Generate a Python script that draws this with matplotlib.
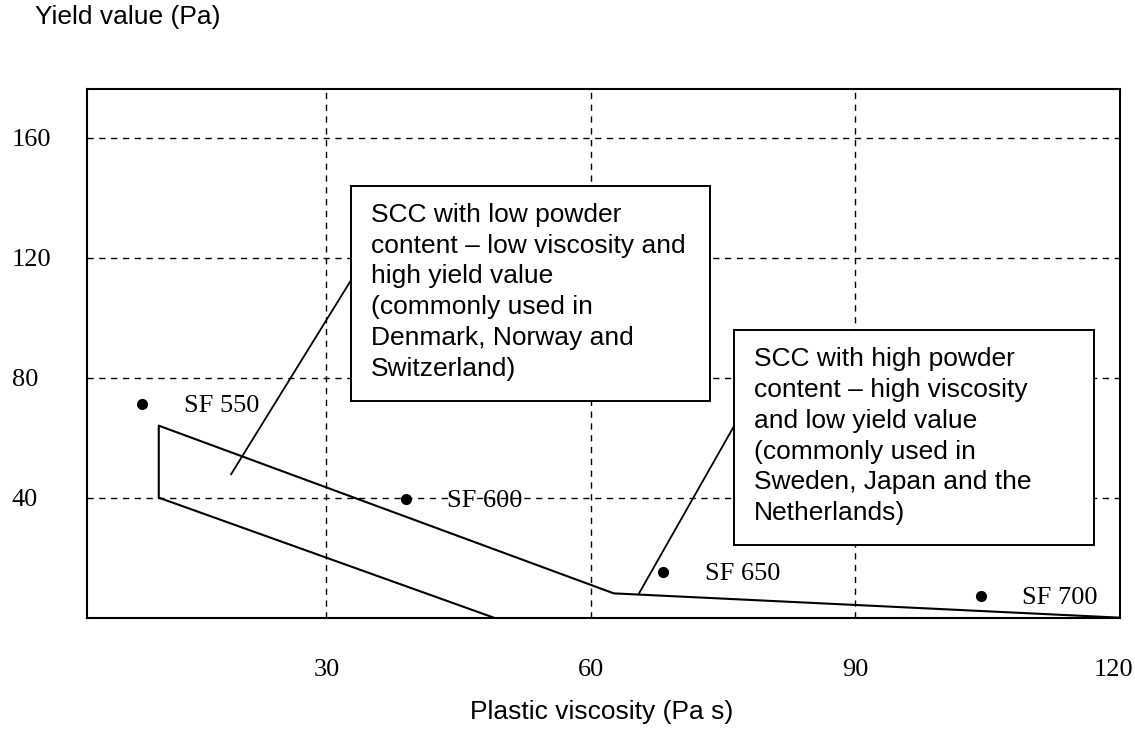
import matplotlib.pyplot as plt
from matplotlib.patches import Rectangle
from matplotlib.transforms import ScaledTranslation

# Points (plastic viscosity Pa s, yield value Pa)
sf_labels = ['SF 550', 'SF 600', 'SF 650', 'SF 700']
sf_visc = [9.1, 39.0, 68.2, 104.2]
sf_yield = [71.2, 39.6, 15.2, 7.3]

# Outline of the SCC region
outline_visc = [49, 11, 11, 62.6, 120]
outline_yield = [0, 40, 64, 8.1, 0]

# Leader lines from the boxes
lead_low_visc = [32.7, 19.2]
lead_low_yield = [112, 47.8]
lead_high_visc = [76.2, 65.4]
lead_high_yield = [63.7, 7.8]

# Boxes: (x0, y0, x1, y1)
box_low = (32.75, 72.2, 73.5, 144.0)
box_high = (76.2, 24.2, 117.1, 95.9)
txt_low = ("SCC with low powder\ncontent \u2013 low viscosity and\nhigh yield value\n"
           "(commonly used in\nDenmark, Norway and\nSwitzerland)")
txt_high = ("SCC with high powder\ncontent \u2013 high viscosity\nand low yield value\n"
            "(commonly used in\nSweden, Japan and the\nNetherlands)")

x_ticks = [30, 60, 90, 120]
y_ticks = [40, 80, 120, 160]

sans = ['Liberation Sans', 'DejaVu Sans']
serif = ['Liberation Serif', 'DejaVu Serif']

fig = plt.figure(figsize=(11.35, 7.29), dpi=100)
ax = fig.add_axes([0.0764, 0.1527, 0.9104, 0.7248])
ax.set_xlim(2.83, 120)
ax.set_ylim(0, 176.1)

# grid
for xv in x_ticks[:-1]:
    ax.axvline(xv, color='black', lw=1.0, dashes=(4.5, 4), zorder=1)
for yv in y_ticks:
    ax.axhline(yv, color='black', lw=1.0, dashes=(4.5, 4), zorder=1)

for s in ax.spines.values():
    s.set_linewidth(1.5)

ax.plot(outline_visc, outline_yield, color='black', lw=1.5, zorder=2)
ax.plot(lead_low_visc, lead_low_yield, color='black', lw=1.3, zorder=2)
ax.plot(lead_high_visc, lead_high_yield, color='black', lw=1.3, zorder=2)

ax.plot(sf_visc, sf_yield, 'o', color='black', markersize=7, zorder=3)
for lab, xv, yv in zip(sf_labels, sf_visc, sf_yield):
    ax.annotate(lab, (xv, yv), textcoords='offset points', xytext=(30, -1.5),
                va='center', ha='left', fontsize=19, family=serif, zorder=3)

for (x0, y0, x1, y1), txt in [(box_low, txt_low), (box_high, txt_high)]:
    ax.add_patch(Rectangle((x0, y0), x1 - x0, y1 - y0, facecolor='white',
                           edgecolor='black', lw=1.4, zorder=4))
    ax.text(x0 + 2.3, y1 - 5.7, txt, ha='left', va='top', fontsize=19,
            family=sans, linespacing=1.36, zorder=5)

ax.set_xticks(x_ticks)
ax.set_yticks(y_ticks)
ax.set_xticklabels([str(v) for v in x_ticks], family=serif, fontsize=19)
ax.set_yticklabels([str(v) for v in y_ticks], family=serif, fontsize=19)
ax.tick_params(axis='x', length=0, pad=30)
ax.tick_params(axis='y', length=0, pad=54)
for lab in ax.get_yticklabels():
    lab.set_horizontalalignment('left')
# keep the last x label inside the figure
last = ax.get_xticklabels()[-1]
last.set_horizontalalignment('right')
last.set_transform(last.get_transform() + ScaledTranslation(0.13, 0, fig.dpi_scale_trans))

fig.text(0.0308, 0.976, 'Yield value (Pa)', ha='left', va='center',
         fontsize=19, family=sans)
fig.text(0.53, 0.023, 'Plastic viscosity (Pa s)', ha='center', va='center',
         fontsize=19, family=sans)

fig.savefig('out.png', dpi=100)
